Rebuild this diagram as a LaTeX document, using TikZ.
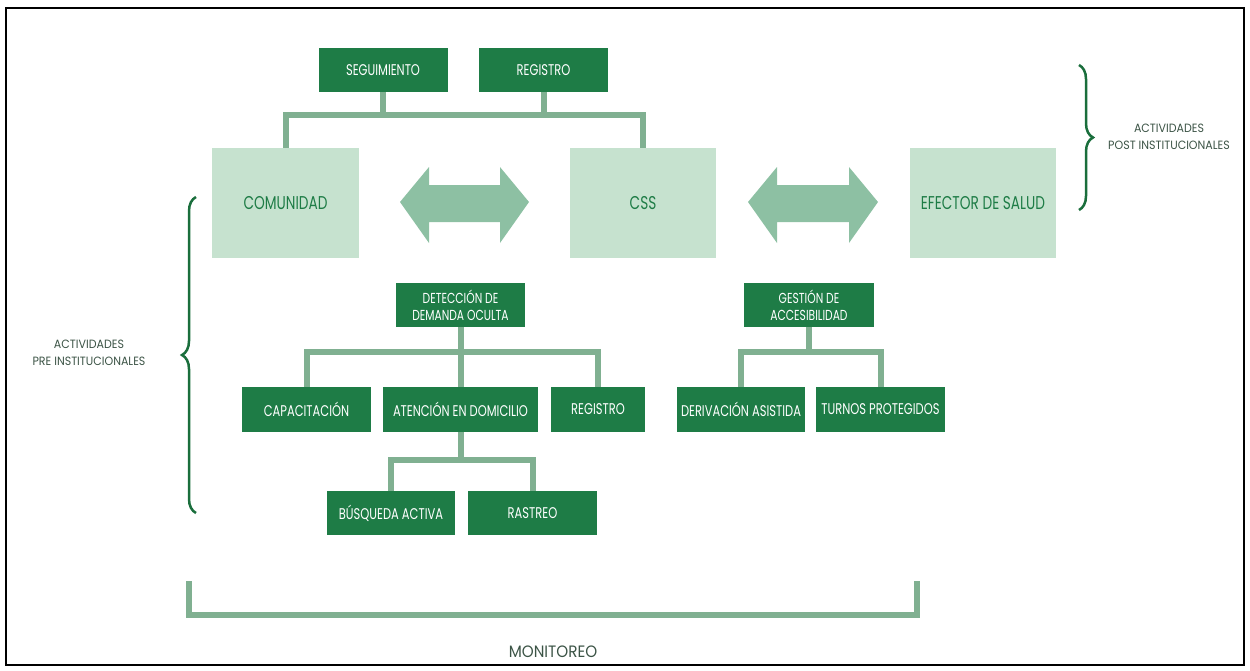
\documentclass[tikz,border=0pt]{standalone}
\usepackage{fontspec}
\setmainfont[FakeStretch=0.74]{Poppins}
\newfontfamily\sidefont[FakeStretch=0.92]{Poppins}
\usepackage{xcolor}
\usepackage{tikz}
\usetikzlibrary{positioning, decorations.pathreplacing}
\definecolor{boxgreen}{RGB}{30, 124, 70}
\definecolor{palegreen}{RGB}{198, 226, 207}
\definecolor{arrowgreen}{RGB}{141, 192, 163}
\definecolor{linkgreen}{RGB}{128, 176, 145}
\definecolor{bracegreen}{RGB}{26, 110, 60}
\definecolor{labelgray}{RGB}{60, 84, 70}

\begin{document}
\begin{tikzpicture}[x=1pt, y=-1pt,
  task/.style={rectangle, fill=boxgreen, text=white, inner sep=0pt, minimum width=129pt, minimum height=44pt, font=\fontsize{15.5}{17}\selectfont, align=center},
  actor/.style={rectangle, fill=palegreen, text=boxgreen, inner sep=0pt, minimum width=147pt, minimum height=110pt, font=\fontsize{18.5}{21}\selectfont},
  link/.style={draw=linkgreen, line width=6pt},
  side/.style={text=labelgray, font=\sidefont\fontsize{12}{17}\selectfont, align=center}]

\useasboundingbox (0,0) rectangle (1250,670);
\draw[line width=2.5pt] (6,8) rectangle (1244,665);

% Top tasks
\node[task] at (383,70) (seg) {SEGUIMIENTO};
\node[task] at (543.5,70) (regtop) {REGISTRO};

% Actors
\node[actor] at (285.5,203) (com) {COMUNIDAD};
\node[actor, minimum width=146pt] at (643,203) (css) {CSS};
\node[actor, minimum width=146pt] at (983,203) (efe) {EFECTOR DE SALUD};

% Double arrows between actors
\fill[arrowgreen] (400,202) -- (429,167) -- (429,185) -- (500,185) -- (500,167) -- (529,202)
  -- (500,243) -- (500,222) -- (429,222) -- (429,243) -- cycle;
\fill[arrowgreen] (748,202) -- (777,167) -- (777,185) -- (849,185) -- (849,167) -- (878,202)
  -- (849,243) -- (849,222) -- (777,222) -- (777,243) -- cycle;

% Second level tasks
\node[task, font=\fontsize{14.5}{17}\selectfont] at (460.5,305) (det) {DETECCIÓN DE\\DEMANDA OCULTA};
\node[task, font=\fontsize{14.5}{17}\selectfont, minimum width=130pt] at (809,305) (ges) {GESTIÓN DE\\ACCESIBILIDAD};

% Third level tasks
\node[task, minimum height=45pt] at (306.5,409.5) (cap) {CAPACITACIÓN};
\node[task, minimum height=45pt, minimum width=155pt] at (460.5,409.5) (ate) {ATENCIÓN EN DOMICILIO};
\node[task, minimum height=45pt, minimum width=94pt] at (598,409.5) (regmid) {REGISTRO};
\node[task, minimum height=45pt, minimum width=128pt] at (741,409.5) (der) {DERIVACIÓN ASISTIDA};
\node[task, minimum height=45pt] at (880.5,409.5) (tur) {TURNOS PROTEGIDOS};

% Fourth level tasks
\node[task, minimum width=128pt] at (391,513) (bus) {BÚSQUEDA ACTIVA};
\node[task] at (532.5,513) (ras) {RASTREO};

% Bars
\coordinate (bartop) at (0,115);
\coordinate (bardet) at (0,352);
\coordinate (barate) at (0,460);

% Connections: top tasks to actors
\draw[link] (com.north) |- (bartop -| css.north) -- (css.north);
\foreach \src in {seg,regtop}
  \draw[link] (\src.south) -- (\src.south |- bartop);

% Connections: detection to its tasks
\draw[link] (cap.north) |- (bardet -| regmid.north) -- (regmid.north);
\draw[link] (det.south) -- (ate.north);

% Connections: home care to its tasks
\draw[link] (bus.north) |- (barate -| ras.north) -- (ras.north);
\draw[link] (ate.south) -- (ate.south |- barate);

% Connections: access to its tasks
\draw[link] (der.north) |- (bardet -| tur.north) -- (tur.north);
\draw[link] (ges.south) -- (ges.south |- bardet);

% Braces
\draw[bracegreen, line width=2.5pt, decorate, decoration={brace, amplitude=14pt}] (1079,65) -- (1079,210);
\node[side] at (1169,137) (post) {ACTIVIDADES\\POST INSTITUCIONALES};
\draw[bracegreen, line width=2.5pt, decorate, decoration={brace, amplitude=14pt}] (196,513) -- (196,197);
\node[side] at (89,353) (pre) {ACTIVIDADES\\PRE INSTITUCIONALES};

% Monitoring bracket
\coordinate (monl) at (189,581);
\coordinate (monr) at (917,581);
\draw[link] (monl) |- (0,615 -| monr) -- (monr);
\node[side, font=\sidefont\fontsize{16.5}{19}\selectfont] at (553,652) (mon) {MONITOREO};

\end{tikzpicture}
\end{document}
